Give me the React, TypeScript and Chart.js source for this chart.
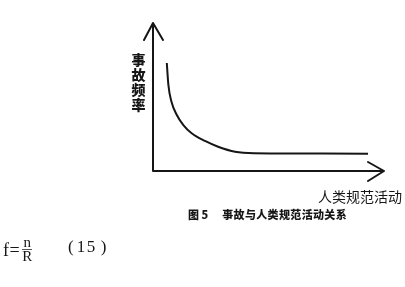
import React, { useEffect, useRef } from "react";
import { Chart, registerables } from "chart.js";

Chart.register(...registerables);

// Human normative activity (x) vs accident frequency (y) (0-100 units)
const activityLevels = [6, 6.7, 8, 10.3, 13.2, 16.8, 22.6, 28.3, 35.7, 44, 64, 93.5];
const accidentFrequency = [73, 58, 47, 38, 31, 25.5, 20.3, 16.4, 13, 12, 11.8, 11.7];
const yAxisLabel = "事故频率";
const xAxisLabel = "人类规范活动";
const captionNumber = "图 5";
const captionText = "事故与人类规范活动关系";
const equationNumber = "15";

const INK = "#161616";

const arrowAxesPlugin = {
  id: "arrowAxes",
  beforeDatasetsDraw(chart: any) {
    const { ctx } = chart;
    const xs = chart.scales.x;
    const ys = chart.scales.y;
    const x0 = xs.getPixelForValue(0);
    const y0 = ys.getPixelForValue(0);
    const xEnd = xs.getPixelForValue(100) + 1;
    const yEnd = ys.getPixelForValue(100);
    ctx.save();
    ctx.strokeStyle = INK;
    ctx.lineWidth = 2;
    ctx.lineCap = "round";
    ctx.lineJoin = "round";
    ctx.beginPath();
    ctx.moveTo(x0, y0);
    ctx.lineTo(x0, yEnd);
    ctx.moveTo(x0, y0);
    ctx.lineTo(xEnd, y0);
    // top arrow
    ctx.moveTo(x0 - 9, yEnd + 17);
    ctx.lineTo(x0, yEnd);
    ctx.lineTo(x0 + 10, yEnd + 17);
    // right arrow
    ctx.moveTo(xEnd - 16, y0 - 9);
    ctx.lineTo(xEnd, y0);
    ctx.lineTo(xEnd - 16, y0 + 10);
    ctx.stroke();
    ctx.restore();
  },
  afterDraw(chart: any) {
    const { ctx } = chart;
    const xs = chart.scales.x;
    const ys = chart.scales.y;
    const x0 = xs.getPixelForValue(0);
    const y0 = ys.getPixelForValue(0);
    const xEnd = xs.getPixelForValue(100);
    const yEnd = ys.getPixelForValue(100);
    ctx.save();
    ctx.fillStyle = INK;
    ctx.textAlign = "center";
    ctx.textBaseline = "middle";
    ctx.font = '900 14px "Noto Sans CJK SC"';
    Array.from(yAxisLabel).forEach((ch, i) => {
      ctx.fillText(ch, x0 - 14.5, yEnd + 36.5 + i * 15);
    });
    ctx.textAlign = "left";
    ctx.font = '14px "Noto Sans CJK SC"';
    ctx.fillText(xAxisLabel, xEnd - 65, y0 + 26);
    ctx.restore();
  },
};

export default function App() {
  const canvasRef = useRef<HTMLCanvasElement | null>(null);

  useEffect(() => {
    if (!canvasRef.current) return;
    const chart = new Chart(canvasRef.current, {
      type: "line",
      data: {
        datasets: [
          {
            data: activityLevels.map((x, i) => ({ x, y: accidentFrequency[i] })),
            borderColor: INK,
            borderWidth: 2,
            pointRadius: 0,
            fill: false,
            cubicInterpolationMode: "monotone",
          },
        ],
      },
      options: {
        animation: false,
        responsive: false,
        layout: { padding: { left: 153, right: 22, top: 23, bottom: 116 } },
        plugins: { legend: { display: false }, tooltip: { enabled: false } },
        scales: {
          x: { type: "linear", min: 0, max: 100, display: false },
          y: { type: "linear", min: 0, max: 100, display: false },
        },
      },
      plugins: [arrowAxesPlugin],
    } as any);
    return () => chart.destroy();
  }, []);

  return (
    <div
      style={{
        position: "fixed",
        left: 0,
        top: 0,
        width: 405,
        height: 287,
        background: "#fff",
        overflow: "hidden",
      }}
    >
      <canvas
        ref={canvasRef}
        width={405}
        height={287}
        style={{ position: "absolute", left: 0, top: 0, width: 405, height: 287 }}
      />
      <div
        style={{
          position: "absolute",
          left: 188,
          top: 206,
          fontFamily: '"Noto Sans CJK SC", sans-serif',
          fontWeight: 900,
          fontSize: 11,
          lineHeight: "16px",
          color: INK,
          whiteSpace: "nowrap",
        }}
      >
        <span>{captionNumber}</span>
        <span style={{ marginLeft: 14, letterSpacing: 0.35 }}>{captionText}</span>
      </div>
      <div
        style={{
          position: "absolute",
          left: 3,
          top: 236,
          height: 26,
          display: "flex",
          alignItems: "center",
          fontFamily: '"Liberation Serif", serif',
          color: INK,
          whiteSpace: "nowrap",
        }}
      >
        <span style={{ fontSize: 18, letterSpacing: 0.5, lineHeight: "19px", marginTop: 2 }}>f=</span>
        <span
          style={{
            display: "inline-flex",
            flexDirection: "column",
            alignItems: "center",
            fontSize: 15,
            lineHeight: "11px",
            marginLeft: 2,
          }}
        >
          <span style={{ borderBottom: "1px solid #555", padding: "0 1px 1px" }}>n</span>
          <span style={{ paddingTop: 1 }}>R</span>
        </span>
      </div>
      <div
        style={{
          position: "absolute",
          left: 68,
          top: 238,
          fontFamily: '"Liberation Serif", serif',
          fontSize: 17,
          lineHeight: "18px",
          color: INK,
          whiteSpace: "nowrap",
        }}
      >
        <span>(</span>
        <span style={{ marginLeft: 3, letterSpacing: 1.5 }}>{equationNumber}</span>
        <span style={{ marginLeft: 4 }}>)</span>
      </div>
    </div>
  );
}
